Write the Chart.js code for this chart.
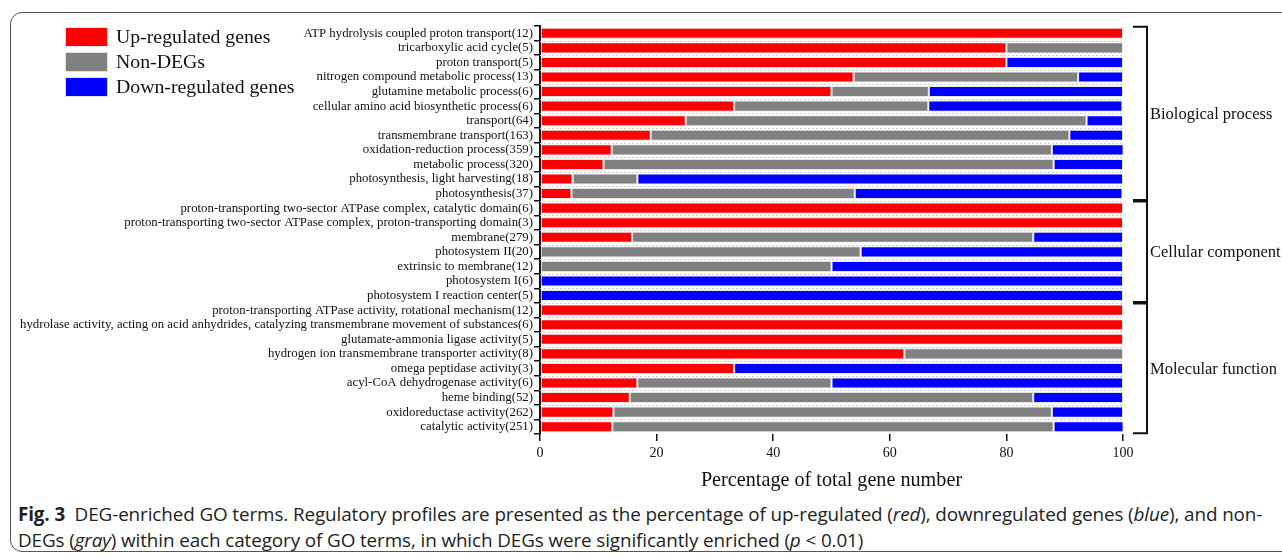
<!DOCTYPE html>
<html>
<head>
<meta charset="utf-8">
<script src="https://cdn.jsdelivr.net/npm/chart.js@4.4.1/dist/chart.umd.min.js"></script>
<style>
    body { margin: 0; background: #fff; width: 1282px; height: 555px; overflow: hidden; position: relative; }
    #frame { position: absolute; left: 10px; top: 12px; width: 1300px; height: 540px; border: 1.4px solid #555; border-radius: 12px; box-sizing: border-box; }
    #goChart { position: absolute; left: 0; top: 0; }
    .cap { position: absolute; left: 18px; top: 501px; font-family: "Open Sans", sans-serif; font-size: 18.85px; line-height: 26px; color: #222; white-space: nowrap; letter-spacing: -0.1px; }
    .cap b { font-size: 18.8px; }
</style>
</head>
<body>
<div id="frame"></div>
<canvas id="goChart" width="1282" height="500"></canvas>
<div class="cap"><b>Fig. 3</b>&nbsp; DEG-enriched GO terms. Regulatory profiles are presented as the percentage of up-regulated (<i>red</i>), downregulated genes (<i>blue</i>), and non-<br>DEGs (<i>gray</i>) within each category of GO terms, in which DEGs were significantly enriched (<i>p</i> &lt; 0.01)</div>
<script>
const categories = [
    'ATP hydrolysis coupled proton transport(12)',
    'tricarboxylic acid cycle(5)',
    'proton transport(5)',
    'nitrogen compound metabolic process(13)',
    'glutamine metabolic process(6)',
    'cellular amino acid biosynthetic process(6)',
    'transport(64)',
    'transmembrane transport(163)',
    'oxidation-reduction process(359)',
    'metabolic process(320)',
    'photosynthesis, light harvesting(18)',
    'photosynthesis(37)',
    'proton-transporting two-sector ATPase complex, catalytic domain(6)',
    'proton-transporting two-sector ATPase complex, proton-transporting domain(3)',
    'membrane(279)',
    'photosystem II(20)',
    'extrinsic to membrane(12)',
    'photosystem I(6)',
    'photosystem I reaction center(5)',
    'proton-transporting ATPase activity, rotational mechanism(12)',
    'hydrolase activity, acting on acid anhydrides, catalyzing transmembrane movement of substances(6)',
    'glutamate-ammonia ligase activity(5)',
    'hydrogen ion transmembrane transporter activity(8)',
    'omega peptidase activity(3)',
    'acyl-CoA dehydrogenase activity(6)',
    'heme binding(52)',
    'oxidoreductase activity(262)',
    'catalytic activity(251)'
];

const upPct     = [100, 80, 80, 53.8, 50, 33.3, 25, 19.0, 12.3, 10.9, 5.6, 5.4, 100, 100, 15.8, 0, 0, 0, 0, 100, 100, 100, 62.5, 33.3, 16.7, 15.4, 12.6, 12.4];
const nonDegPct = [0, 20, 0, 38.5, 16.7, 33.3, 68.75, 71.8, 75.5, 77.2, 11.1, 48.6, 0, 0, 68.8, 55, 50, 0, 0, 0, 0, 0, 37.5, 0, 33.3, 69.2, 75.2, 75.7];
const downPct   = [0, 0, 20, 7.7, 33.3, 33.3, 6.25, 9.2, 12.3, 11.9, 83.3, 45.9, 0, 0, 15.4, 45, 50, 100, 100, 0, 0, 0, 0, 66.7, 50, 15.4, 12.2, 12.0];

const seriesNames = ['Up-regulated genes', 'Non-DEGs', 'Down-regulated genes'];
const seriesColors = ['#ff0000', '#808080', '#0000ff'];

// GO category groups: first and last row index
const groups = [
    { name: 'Biological process', from: 0, to: 11 },
    { name: 'Cellular component', from: 12, to: 18 },
    { name: 'Molecular function', from: 19, to: 27 }
];

const xTicks = [0, 20, 40, 60, 80, 100];

const SERIF = '"Liberation Serif", "Times New Roman", serif';
const BAR_FRAC = 0.76;

const extrasPlugin = {
    id: 'goExtras',
    beforeDatasetsDraw(chart) {
        // dotted separators between rows
        const { ctx, chartArea } = chart;
        const y = chart.scales.y;
        ctx.save();
        ctx.strokeStyle = '#cfcfcf';
        ctx.lineWidth = 1;
        ctx.setLineDash([2, 2]);
        for (let i = 0; i < categories.length - 1; i++) {
            const py = Math.round((y.getPixelForValue(i) + y.getPixelForValue(i + 1)) / 2) + 0.5;
            ctx.beginPath();
            ctx.moveTo(chartArea.left, py);
            ctx.lineTo(chartArea.right, py);
            ctx.stroke();
        }
        ctx.restore();
    },
    afterDraw(chart) {
        const { ctx, chartArea } = chart;
        const y = chart.scales.y;
        const half = (y.getPixelForValue(1) - y.getPixelForValue(0)) * BAR_FRAC / 2;

        // legend, top left
        ctx.save();
        ctx.font = '19.8px ' + SERIF;
        ctx.textBaseline = 'middle';
        seriesNames.forEach((name, i) => {
            const top = 27 + i * 25;
            ctx.fillStyle = seriesColors[i];
            ctx.fillRect(65, top, 43, 20);
            ctx.strokeStyle = '#e0e0e0';
            ctx.lineWidth = 1;
            ctx.strokeRect(65.5, top + 0.5, 42, 19);
            ctx.fillStyle = '#111';
            ctx.fillText(name, 116, top + 11);
        });

        // group brackets on the right
        const x0 = chartArea.right + 10;
        const x1 = chartArea.right + 24;
        ctx.strokeStyle = '#111';
        ctx.lineWidth = 2;
        ctx.font = '16.5px ' + SERIF;
        ctx.fillStyle = '#111';
        ctx.textAlign = 'left';
        groups.forEach(g => {
            const top = y.getPixelForValue(g.from) - half - 1;
            const bot = y.getPixelForValue(g.to) + half + 1;
            ctx.beginPath();
            ctx.moveTo(x0, top);
            ctx.lineTo(x1, top);
            ctx.lineTo(x1, bot);
            ctx.lineTo(x0, bot);
            ctx.stroke();
            ctx.fillText(g.name, x1 + 3, (top + bot) / 2 + 1);
        });
        ctx.restore();
    }
};

const datasets = [upPct, nonDegPct, downPct].map((vals, i) => ({
    label: seriesNames[i],
    data: vals,
    backgroundColor: seriesColors[i],
    borderColor: '#e4e4e4',
    borderWidth: 1,
    borderSkipped: false,
    barPercentage: BAR_FRAC,
    categoryPercentage: 1
}));

new Chart(document.getElementById('goChart'), {
    type: 'bar',
    data: { labels: categories, datasets: datasets },
    plugins: [extrasPlugin],
    options: {
        indexAxis: 'y',
        responsive: false,
        devicePixelRatio: 1,
        animation: false,
        layout: { padding: { top: 26, right: 159, left: 0, bottom: 0 } },
        plugins: {
            legend: { display: false },
            tooltip: { enabled: false }
        },
        scales: {
            x: {
                stacked: true,
                min: 0,
                max: 100,
                afterBuildTicks: (scale) => { scale.ticks = xTicks.map(v => ({ value: v })); },
                afterFit: (scale) => { scale.height = 66; },
                border: { display: false },
                grid: { drawOnChartArea: false, drawTicks: true, tickLength: 7, color: '#111', lineWidth: 1.5 },
                ticks: { color: '#111', padding: 4, font: { family: SERIF, size: 14 } },
                title: {
                    display: true,
                    text: 'Percentage of total gene number',
                    color: '#111',
                    font: { family: SERIF, size: 20.2 },
                    padding: { top: 9, bottom: 7 }
                }
            },
            y: {
                stacked: true,
                afterFit: (scale) => { scale.width = 540; },
                border: { display: true, color: '#111', width: 2 },
                grid: { drawOnChartArea: false, drawTicks: true, tickLength: 6, color: '#111', lineWidth: 1.5 },
                ticks: { color: '#111', padding: 1, autoSkip: false, font: { family: SERIF, size: 12.8 } }
            }
        }
    }
});
</script>
</body>
</html>
